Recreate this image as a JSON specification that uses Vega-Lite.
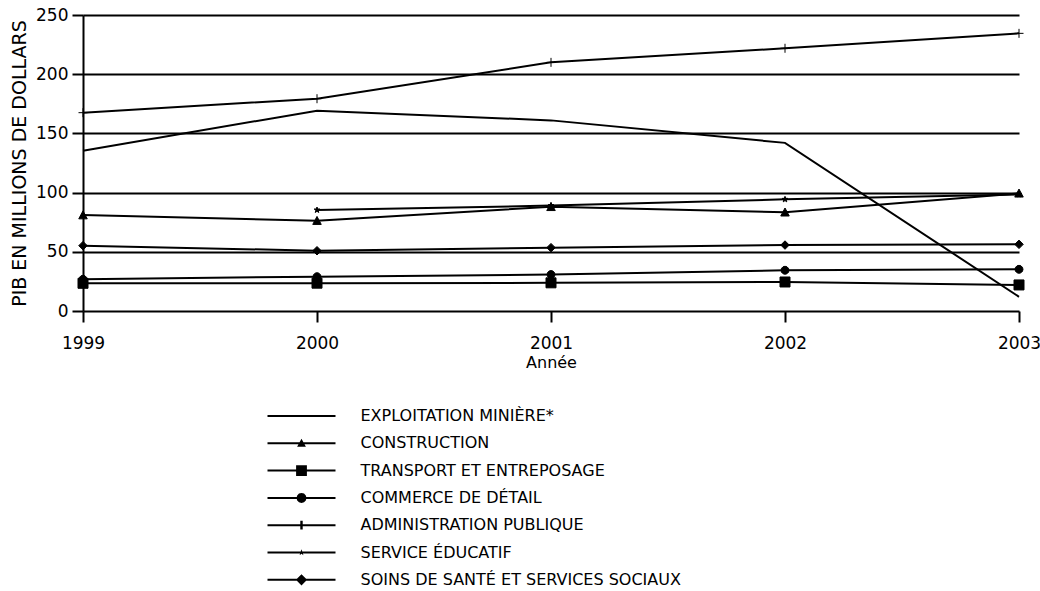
{
  "$schema": "https://vega.github.io/schema/vega-lite/v6.json",
  "width": 936,
  "height": 296,
  "autosize": "none",
  "padding": {"left": 83, "top": 15, "right": 21, "bottom": 280},
  "background": "white",
  "config": {
    "font": "DejaVu Sans",
    "view": {"stroke": null},
    "axis": {"labelColor": "black", "titleColor": "black", "labelFont": "DejaVu Sans", "titleFont": "DejaVu Sans", "titleFontWeight": "normal"}
  },
  "data": {
    "values": [
      {"series": "EXPLOITATION MINIÈRE*", "year": 1999, "value": 135.4},
      {"series": "EXPLOITATION MINIÈRE*", "year": 2000, "value": 169.2},
      {"series": "EXPLOITATION MINIÈRE*", "year": 2001, "value": 161},
      {"series": "EXPLOITATION MINIÈRE*", "year": 2002, "value": 142},
      {"series": "EXPLOITATION MINIÈRE*", "year": 2003, "value": 12},
      {"series": "CONSTRUCTION", "year": 1999, "value": 81},
      {"series": "CONSTRUCTION", "year": 2000, "value": 76.3},
      {"series": "CONSTRUCTION", "year": 2001, "value": 88},
      {"series": "CONSTRUCTION", "year": 2002, "value": 83.4},
      {"series": "CONSTRUCTION", "year": 2003, "value": 99.4},
      {"series": "TRANSPORT ET ENTREPOSAGE", "year": 1999, "value": 23.4},
      {"series": "TRANSPORT ET ENTREPOSAGE", "year": 2000, "value": 23.5},
      {"series": "TRANSPORT ET ENTREPOSAGE", "year": 2001, "value": 23.8},
      {"series": "TRANSPORT ET ENTREPOSAGE", "year": 2002, "value": 24.5},
      {"series": "TRANSPORT ET ENTREPOSAGE", "year": 2003, "value": 22},
      {"series": "COMMERCE DE DÉTAIL", "year": 1999, "value": 26.8},
      {"series": "COMMERCE DE DÉTAIL", "year": 2000, "value": 29},
      {"series": "COMMERCE DE DÉTAIL", "year": 2001, "value": 30.8},
      {"series": "COMMERCE DE DÉTAIL", "year": 2002, "value": 34.4},
      {"series": "COMMERCE DE DÉTAIL", "year": 2003, "value": 35.2},
      {"series": "ADMINISTRATION PUBLIQUE", "year": 1999, "value": 167.5},
      {"series": "ADMINISTRATION PUBLIQUE", "year": 2000, "value": 179.3},
      {"series": "ADMINISTRATION PUBLIQUE", "year": 2001, "value": 210},
      {"series": "ADMINISTRATION PUBLIQUE", "year": 2002, "value": 221.9},
      {"series": "ADMINISTRATION PUBLIQUE", "year": 2003, "value": 234.5},
      {"series": "SERVICE ÉDUCATIF", "year": 2000, "value": 85.3},
      {"series": "SERVICE ÉDUCATIF", "year": 2001, "value": 89},
      {"series": "SERVICE ÉDUCATIF", "year": 2002, "value": 94.3},
      {"series": "SERVICE ÉDUCATIF", "year": 2003, "value": 98.5},
      {"series": "SOINS DE SANTÉ ET SERVICES SOCIAUX", "year": 1999, "value": 55.2},
      {"series": "SOINS DE SANTÉ ET SERVICES SOCIAUX", "year": 2000, "value": 50.9},
      {"series": "SOINS DE SANTÉ ET SERVICES SOCIAUX", "year": 2001, "value": 53.5},
      {"series": "SOINS DE SANTÉ ET SERVICES SOCIAUX", "year": 2002, "value": 55.7},
      {"series": "SOINS DE SANTÉ ET SERVICES SOCIAUX", "year": 2003, "value": 56.3}
    ]
  },
  "encoding": {
    "x": {
      "field": "year", "type": "quantitative",
      "scale": {"domain": [1999, 2003], "nice": false, "zero": false},
      "axis": {
        "title": "Année", "values": [1999, 2000, 2001, 2002, 2003], "format": "d",
        "grid": false, "domain": false, "tickColor": "black", "tickWidth": 2, "tickSize": 11,
        "labelFontSize": 17, "labelPadding": 13, "titleFontSize": 16, "titlePadding": 3,
        "labelOverlap": false, "labelFlush": false
      }
    },
    "y": {
      "field": "value", "type": "quantitative",
      "scale": {"domain": [0, 250], "nice": false},
      "axis": {
        "title": "PIB EN MILLIONS DE DOLLARS", "values": [0, 50, 100, 150, 200, 250],
        "grid": true, "gridColor": "black", "gridWidth": 2, "gridOpacity": 1,
        "domain": true, "domainColor": "black", "domainWidth": 2,
        "tickColor": "black", "tickWidth": 2, "tickSize": 11,
        "labelFontSize": 17, "labelPadding": 4, "titleFontSize": 19, "titlePadding": 6
      }
    }
  },
  "layer": [
    {
      "mark": {"type": "line", "stroke": "black", "strokeWidth": 2},
      "encoding": {"detail": {"field": "series", "type": "nominal"}}
    },
    {
      "transform": [{"filter": "datum.series !== 'EXPLOITATION MINIÈRE*'"}],
      "mark": {"type": "point", "filled": true, "fill": "black", "stroke": "black", "strokeWidth": 1, "opacity": 1, "size": 100},
      "encoding": {
        "shape": {
          "field": "series", "type": "nominal", "legend": null,
          "scale": {
            "domain": ["EXPLOITATION MINIÈRE*", "CONSTRUCTION", "TRANSPORT ET ENTREPOSAGE", "COMMERCE DE DÉTAIL", "ADMINISTRATION PUBLIQUE", "SERVICE ÉDUCATIF", "SOINS DE SANTÉ ET SERVICES SOCIAUX"],
            "range": [
              "M0,0",
              "M0,-0.85L0.85,0.75H-0.85Z",
              "M-1,-1H1V1H-1Z",
              "M0.8,0L0.69,0.4L0.4,0.69L0,0.8L-0.4,0.69L-0.69,0.4L-0.8,0L-0.69,-0.4L-0.4,-0.69L0,-0.8L0.4,-0.69L0.69,-0.4Z",
              "M-0.9,0H0.9M0,-0.9V0.9",
              "M0,-0.6L0.15,-0.2L0.57,-0.2L0.23,0.07L0.35,0.5L0,0.25L-0.35,0.5L-0.23,0.07L-0.57,-0.2L-0.15,-0.2Z",
              "M0,-0.85L0.85,0L0,0.85L-0.85,0Z"
            ]
          }
        }
      }
    },
    {
      "transform": [{"filter": "datum.year > 3000"}],
      "mark": {"type": "point", "filled": true, "fill": "black"},
      "encoding": {
        "shape": {
          "field": "series", "type": "nominal",
          "scale": {
            "domain": ["EXPLOITATION MINIÈRE*", "CONSTRUCTION", "TRANSPORT ET ENTREPOSAGE", "COMMERCE DE DÉTAIL", "ADMINISTRATION PUBLIQUE", "SERVICE ÉDUCATIF", "SOINS DE SANTÉ ET SERVICES SOCIAUX"],
            "range": [
              "M-8.5,-0.25H8.5V0.25H-8.5Z",
              "M-8.5,-0.25H8.5V0.25H-8.5ZM0,-1.15L1.1,0.85L-1.1,0.85Z",
              "M-8.5,-0.25H8.5V0.25H-8.5ZM-1.35,-1.35H1.35V1.35H-1.35Z",
              "M-8.5,-0.25H8.5V0.25H-8.5ZM1.25,0L1.08,0.63L0.63,1.08L0,1.25L-0.63,1.08L-1.08,0.63L-1.25,0L-1.08,-0.63L-0.63,-1.08L0,-1.25L0.63,-1.08L1.08,-0.63Z",
              "M-8.5,-0.25H8.5V0.25H-8.5ZM-0.3,-1.1H0.3V1.1H-0.3Z",
              "M-8.5,-0.25H8.5V0.25H-8.5ZM0,-0.8L0.19,-0.26L0.76,-0.26L0.31,0.09L0.47,0.66L0,0.33L-0.47,0.66L-0.31,0.09L-0.76,-0.26L-0.19,-0.26Z",
              "M-8.5,-0.25H8.5V0.25H-8.5ZM0,-1.4L1.4,0L0,1.4L-1.4,0Z"
            ]
          },
          "legend": {
            "orient": "none", "legendX": 210.5, "legendY": 393, "title": null, "padding": 0,
            "symbolSize": 64, "labelOffset": 51, "labelFontSize": 16, "labelFont": "DejaVu Sans", "labelColor": "black",
            "rowPadding": 11.3, "labelLimit": 600,
            "symbolFillColor": "black", "symbolStrokeColor": "black", "symbolStrokeWidth": 0, "symbolOpacity": 1
          }
        }
      }
    }
  ],
  "resolve": {"scale": {"shape": "independent"}, "legend": {"shape": "independent"}}
}
